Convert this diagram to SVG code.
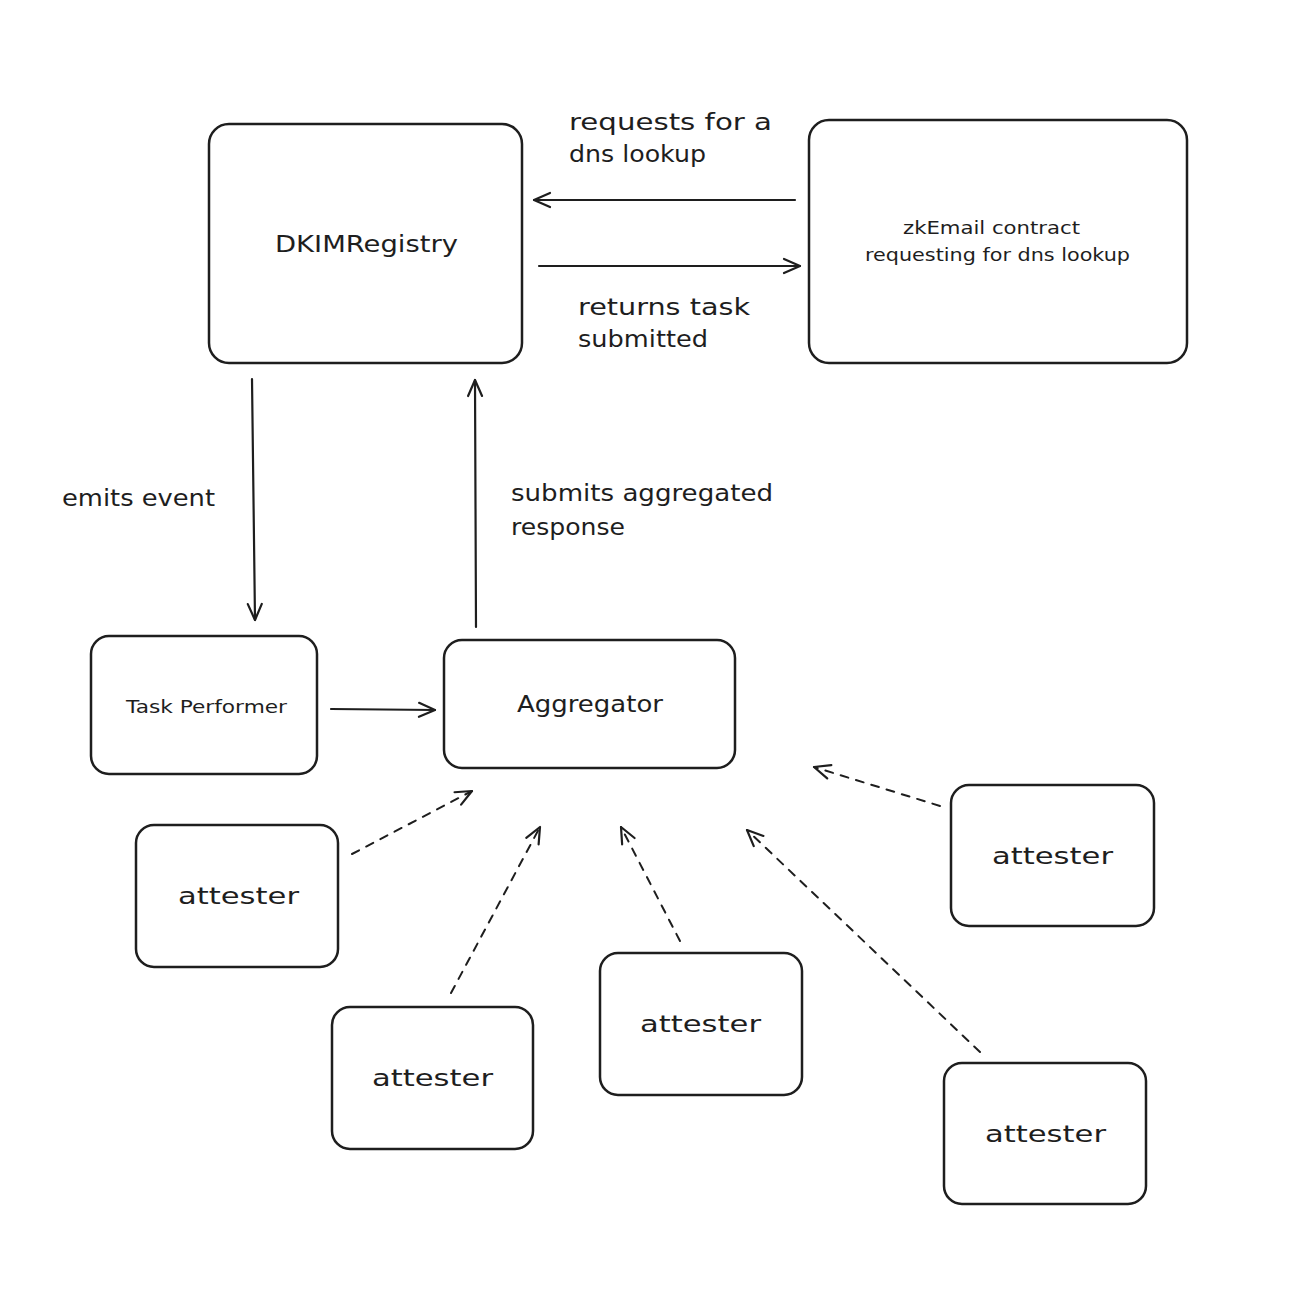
<svg xmlns="http://www.w3.org/2000/svg" width="1306" height="1296" viewBox="0 0 1306 1296">
<defs>
<style>
.box{fill:#fff;stroke:#1e1e1e;stroke-width:2.5}
.t{font-family:"DejaVu Sans","Liberation Sans",sans-serif;fill:#1e1e1e}
.c{text-anchor:middle}
.lbl{font-size:23px}
.sm{font-size:17px}
.ln{fill:none;stroke:#1e1e1e;stroke-width:2.2;stroke-linecap:round}
.dash{stroke-dasharray:8 8;stroke-width:2}
</style>
<marker id="ah" viewBox="0 0 20 20" refX="18" refY="10" markerWidth="20" markerHeight="20" markerUnits="userSpaceOnUse" orient="auto">
<path d="M2 3 L18 10 L2 17" fill="none" stroke="#1e1e1e" stroke-width="2.2" stroke-linecap="round" stroke-linejoin="round"/>
</marker>
</defs>
<rect width="1306" height="1296" fill="#fff"/>
<g id="connectors">
<line class="ln" x1="795" y1="200" x2="534" y2="200" marker-end="url(#ah)"/>
<line class="ln" x1="539" y1="266" x2="800" y2="266" marker-end="url(#ah)"/>
<line class="ln" x1="252" y1="379" x2="255" y2="620" marker-end="url(#ah)"/>
<line class="ln" x1="476" y1="627" x2="475" y2="380" marker-end="url(#ah)"/>
<line class="ln" x1="331" y1="709" x2="435" y2="710" marker-end="url(#ah)"/>
<line class="ln dash" x1="352" y1="854" x2="472" y2="791" marker-end="url(#ah)"/>
<line class="ln dash" x1="451" y1="993" x2="540" y2="827" marker-end="url(#ah)"/>
<line class="ln dash" x1="680" y1="941" x2="621" y2="827" marker-end="url(#ah)"/>
<line class="ln dash" x1="980" y1="1052" x2="747" y2="830" marker-end="url(#ah)"/>
<line class="ln dash" x1="940" y1="806" x2="814" y2="767" marker-end="url(#ah)"/>
<text class="t lbl" x="569" y="130" textLength="203" lengthAdjust="spacingAndGlyphs">requests for a</text>
<text class="t lbl" x="569" y="162" textLength="137" lengthAdjust="spacingAndGlyphs">dns lookup</text>
<text class="t lbl" x="578" y="315" textLength="172" lengthAdjust="spacingAndGlyphs">returns task</text>
<text class="t lbl" x="578" y="347" textLength="130" lengthAdjust="spacingAndGlyphs">submitted</text>
<text class="t lbl" x="62" y="506" textLength="153" lengthAdjust="spacingAndGlyphs">emits event</text>
<text class="t lbl" x="511" y="501" textLength="262" lengthAdjust="spacingAndGlyphs">submits aggregated</text>
<text class="t lbl" x="511" y="535" textLength="114" lengthAdjust="spacingAndGlyphs">response</text>
</g>
<g id="dkim">
<rect class="box" x="209" y="124" width="313" height="239" rx="20"/>
<text class="t lbl" x="275" y="252" textLength="183" lengthAdjust="spacingAndGlyphs">DKIMRegistry</text>
</g>
<g id="zkemail">
<rect class="box" x="809" y="120" width="378" height="243" rx="20"/>
<text class="t sm" x="903" y="234" textLength="177" lengthAdjust="spacingAndGlyphs">zkEmail contract</text>
<text class="t sm" x="865" y="261" textLength="265" lengthAdjust="spacingAndGlyphs">requesting for dns lookup</text>
</g>
<g id="taskperformer">
<rect class="box" x="91" y="636" width="226" height="138" rx="18"/>
<text class="t sm" x="126" y="713" textLength="161" lengthAdjust="spacingAndGlyphs">Task Performer</text>
</g>
<g id="aggregator">
<rect class="box" x="444" y="640" width="291" height="128" rx="18"/>
<text class="t lbl" x="517" y="712" textLength="146" lengthAdjust="spacingAndGlyphs">Aggregator</text>
</g>
<g id="attester1">
<rect class="box" x="136" y="825" width="202" height="142" rx="18"/>
<text class="t lbl" x="178" y="904" textLength="121" lengthAdjust="spacingAndGlyphs">attester</text>
</g>
<g id="attester2">
<rect class="box" x="332" y="1007" width="201" height="142" rx="18"/>
<text class="t lbl" x="372" y="1086" textLength="121" lengthAdjust="spacingAndGlyphs">attester</text>
</g>
<g id="attester3">
<rect class="box" x="600" y="953" width="202" height="142" rx="18"/>
<text class="t lbl" x="640" y="1032" textLength="121" lengthAdjust="spacingAndGlyphs">attester</text>
</g>
<g id="attester4">
<rect class="box" x="951" y="785" width="203" height="141" rx="18"/>
<text class="t lbl" x="992" y="864" textLength="121" lengthAdjust="spacingAndGlyphs">attester</text>
</g>
<g id="attester5">
<rect class="box" x="944" y="1063" width="202" height="141" rx="18"/>
<text class="t lbl" x="985" y="1142" textLength="121" lengthAdjust="spacingAndGlyphs">attester</text>
</g>
</svg>
